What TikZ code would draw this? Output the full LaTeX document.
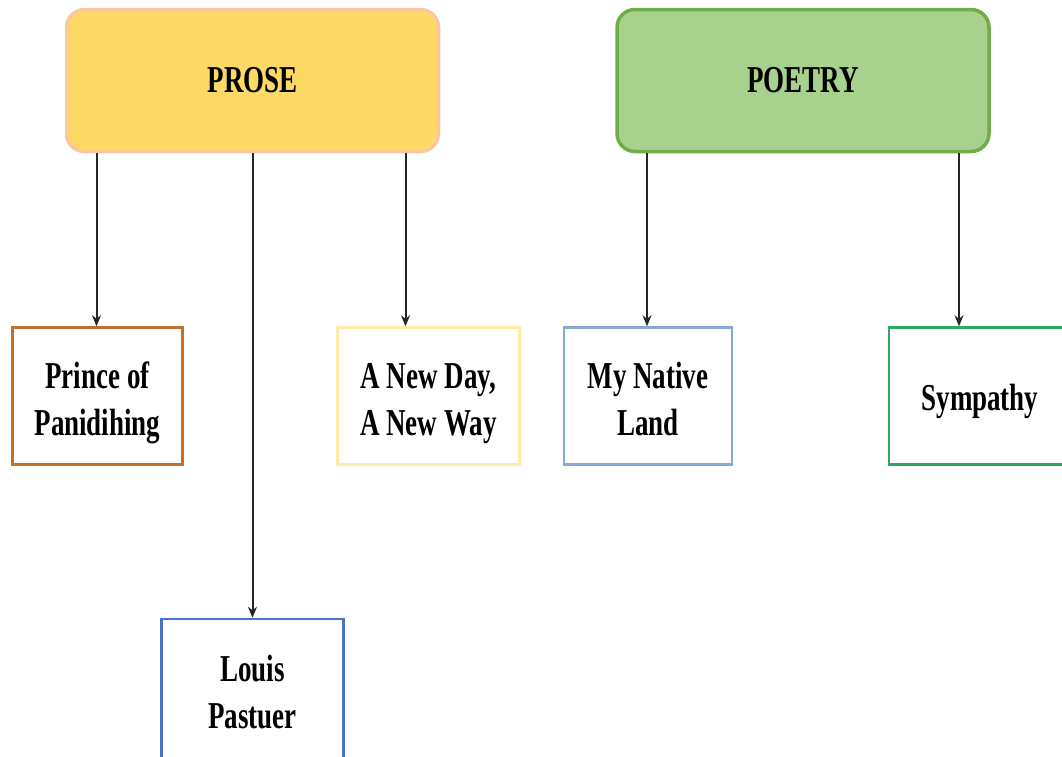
\documentclass[tikz,border=0pt]{standalone}
\usepackage{fontspec}
\setmainfont{Liberation Serif}[FakeStretch=0.71]
\usetikzlibrary{positioning}
\usetikzlibrary{arrows.meta}
\definecolor{prose fill colour}{HTML}{FFD966}
\definecolor{prose line colour}{HTML}{F8C9A0}
\definecolor{poetry fill colour}{HTML}{A9D18E}
\definecolor{poetry line colour}{HTML}{72AC48}
\definecolor{prince colour}{HTML}{C2702F}
\definecolor{newday colour}{HTML}{FFEBA8}
\definecolor{native colour}{HTML}{86A8D6}
\definecolor{sympathy colour}{HTML}{2FA865}
\definecolor{louis colour}{HTML}{4A72C8}
\colorlet{link colour}{black!85}
\tikzset{
    % Thin dark connectors with a small solid tip
    link/.style={color=link colour, line width=2pt,
        -{Stealth[length=11pt, width=9pt]}},
    % Big condensed bold labels everywhere
    every node/.style={align=center, font=\fontsize{38}{47}\selectfont\bfseries},
}

\begin{document}
\begin{tikzpicture}[
    x=1pt, y=1pt,
    head/.style={draw, rounded corners=18pt, line width=3.5pt,
        minimum width=372pt, minimum height=142pt, inner sep=0pt},
    leaf/.style={draw, fill=white, line width=2.5pt,
        minimum width=168pt, minimum height=137pt, inner sep=0pt,
        text height=84pt, text depth=6pt},
    wide leaf/.style={leaf, minimum width=182pt},
]

\useasboundingbox [fill=white] (0,0) rectangle (1062,-756);

\path (252.5,-80.5)
    node [head, fill=prose fill colour, draw=prose line colour] (prose) {PROSE}
    +(550.5,0) node [head, fill=poetry fill colour, draw=poetry line colour]
        (poetry) {POETRY}
    +(-155,-315.5) node [leaf, minimum width=170pt, draw=prince colour]
        (prince) {Prince of\\Panidihing}
    +(176,-315.5) node [wide leaf, draw=newday colour]
        (newday) {A New Day,\\A New Way}
    +(0,-608.5) node [wide leaf, draw=louis colour, minimum height=140pt]
        (louis) {Louis\\Pastuer}
    +(395.5,-315.5) node [leaf, draw=native colour] (native) {My Native\\Land}
    +(727.5,-315.5) node [wide leaf, draw=sympathy colour,
        text height=34pt, text depth=6pt] (sympathy) {Sympathy};

\draw [link] ([xshift=-156pt]prose.south) coordinate (p) -- (p |- prince.north);
\draw [link] (prose.south) coordinate (p) -- (p |- louis.north);
\draw [link] ([xshift=153pt]prose.south) coordinate (p) -- (p |- newday.north);

\draw [link] ([xshift=-156pt]poetry.south) coordinate (p) -- (p |- native.north);
\draw [link] ([xshift=156pt]poetry.south) coordinate (p) -- (p |- sympathy.north);

\end{tikzpicture}
\end{document}
